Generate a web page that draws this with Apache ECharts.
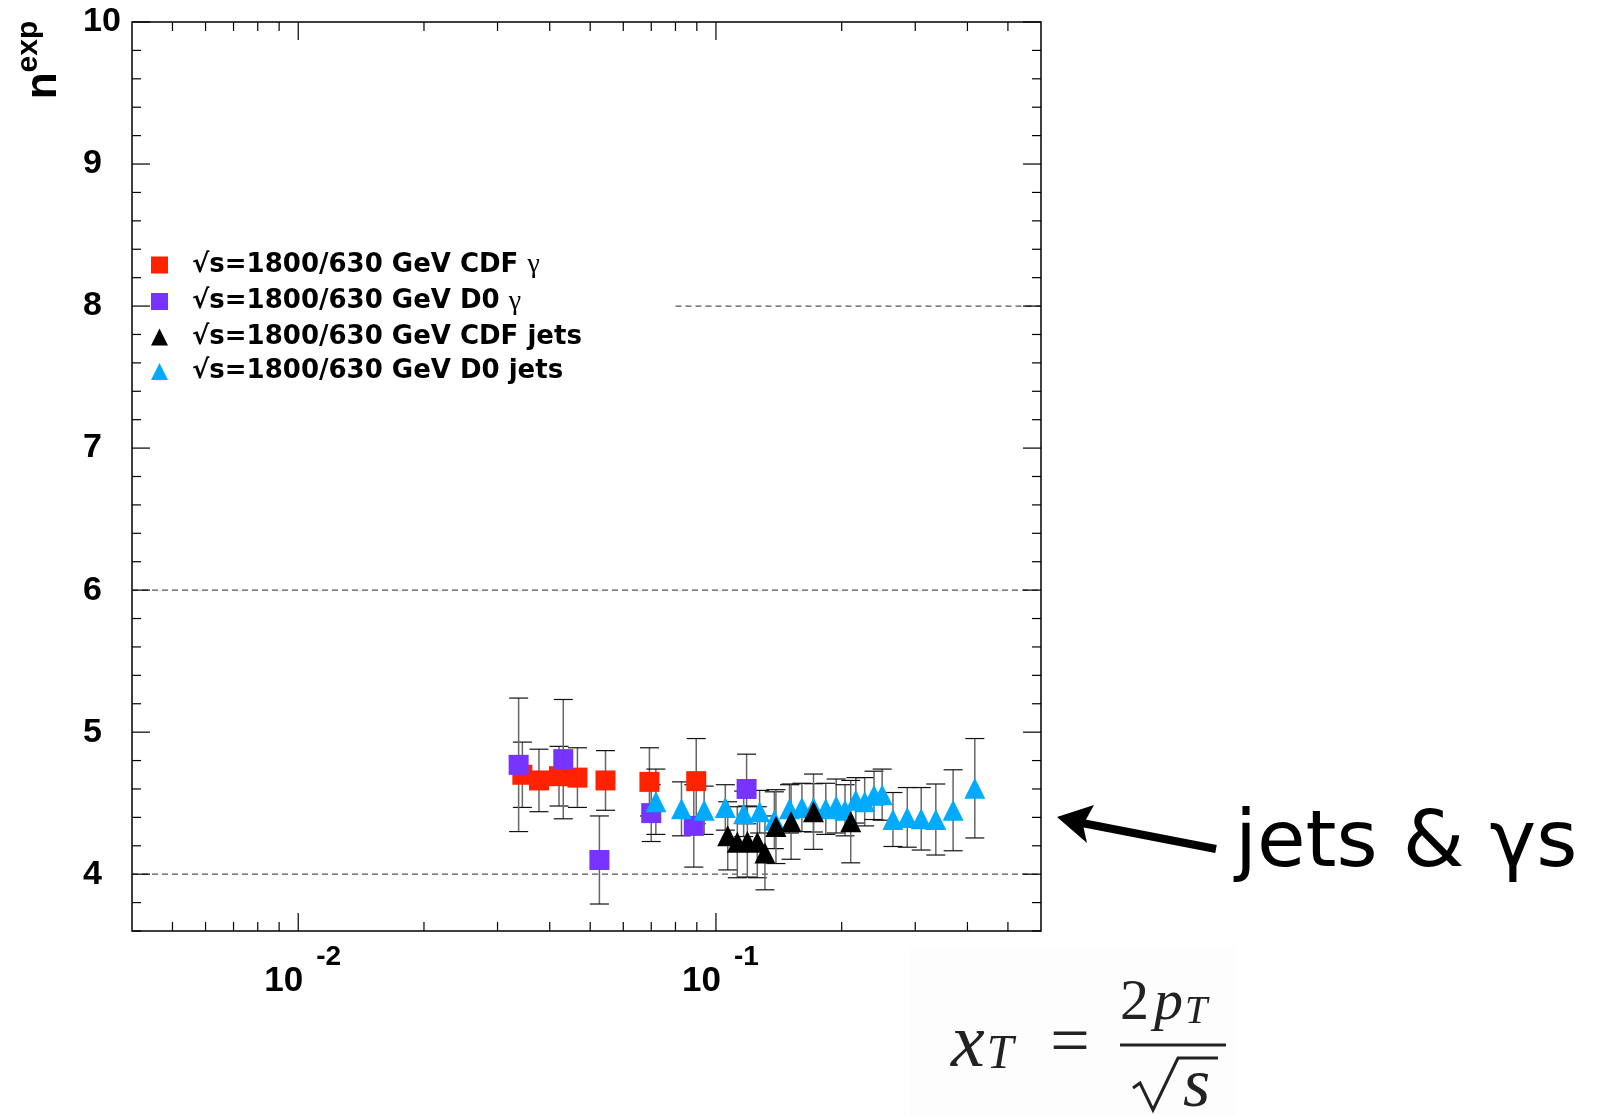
<!DOCTYPE html>
<html>
<head>
<meta charset="utf-8">
<script src="https://cdn.jsdelivr.net/npm/echarts@6/dist/echarts.min.js"></script>
<style>
  html, body { margin: 0; padding: 0; background: #fff; }
  #chart { width: 1597px; height: 1116px; }
</style>
</head>
<body>
<div id="chart"></div>
<script>
// values (x = x_T, y = n_exp, err = half-length of the error bar)
const cdfGammaX = [0.0344, 0.0377, 0.0421, 0.0466, 0.0544, 0.0693, 0.0897]
const cdfGammaY = [4.70, 4.66, 4.69, 4.68, 4.66, 4.65, 4.655]
const cdfGammaErr = [0.23, 0.22, 0.21, 0.21, 0.21, 0.24, 0.30]

const d0GammaX = [0.0337, 0.0431, 0.0526, 0.0700, 0.0885, 0.1184]
const d0GammaY = [4.77, 4.81, 4.10, 4.43, 4.34, 4.60]
const d0GammaErr = [0.47, 0.42, 0.31, 0.20, 0.29, 0.245]

const d0JetsX = [0.0718, 0.0827, 0.0937, 0.1053, 0.1165, 0.1272, 0.138, 0.150, 0.1606, 0.1712,
  0.1832, 0.194, 0.2037, 0.2162, 0.227, 0.239, 0.250, 0.2653, 0.2871, 0.310, 0.336, 0.3696, 0.4166]
const d0JetsY = [4.51, 4.46, 4.45, 4.47, 4.425, 4.44, 4.38, 4.46, 4.47, 4.467,
  4.46, 4.48, 4.45, 4.52, 4.51, 4.555, 4.56, 4.385, 4.40, 4.39, 4.385, 4.45, 4.605]
const d0JetsErr = [0.23, 0.19, 0.17, 0.16, 0.16, 0.15, 0.20, 0.17, 0.17, 0.17,
  0.18, 0.19, 0.18, 0.16, 0.17, 0.17, 0.18, 0.19, 0.21, 0.22, 0.25, 0.285, 0.35]

const cdfJetsX = [0.1067, 0.1125, 0.1189, 0.1256, 0.131, 0.1392, 0.1513, 0.1712, 0.2102]
const cdfJetsY = [4.27, 4.225, 4.23, 4.225, 4.15, 4.335, 4.37, 4.44, 4.37]
const cdfJetsErr = [0.24, 0.25, 0.25, 0.25, 0.26, 0.26, 0.265, 0.265, 0.29]

// dashed reference lines
const refLevels = [4, 6, 8]
const refFrom = [0.004, 0.004, 0.08]
const refTo = [0.6, 0.6, 0.6]

// frame ticks
const xMajorTicks = [0.01, 0.1]
const xMinorTicks = [0.005, 0.006, 0.007, 0.008, 0.009, 0.02, 0.03, 0.04, 0.05, 0.06, 0.07, 0.08, 0.09, 0.2, 0.3, 0.4, 0.5]
const yMajorTicks = [4, 5, 6, 7, 8, 9, 10]
const yMinorTicks = []
for (let k = 18; k <= 50; k++) {
  if (k % 5 !== 0) yMinorTicks.push(k / 5)
}

const names = [
  '√s=1800/630 GeV CDF γ',
  '√s=1800/630 GeV D0 γ',
  '√s=1800/630 GeV CDF jets',
  '√s=1800/630 GeV D0 jets'
]

const zip3 = (a, b, c) => a.map((v, i) => [v, b[i], c[i]])
const zip2 = (a, b) => a.map((v, i) => [v, b[i]])

function errorBarItem(params, api) {
  const x = api.value(0), y = api.value(1), e = api.value(2)
  const hi = api.coord([x, y + e])
  const lo = api.coord([x, y - e])
  const w = 9.5
  return {
    type: 'group',
    children: [
      { type: 'line', shape: { x1: hi[0], y1: hi[1], x2: lo[0], y2: lo[1] }, style: { stroke: '#666', lineWidth: 1.5 } },
      { type: 'line', shape: { x1: hi[0] - w, y1: hi[1], x2: hi[0] + w, y2: hi[1] }, style: { stroke: '#111', lineWidth: 1.2 } },
      { type: 'line', shape: { x1: lo[0] - w, y1: lo[1], x2: lo[0] + w, y2: lo[1] }, style: { stroke: '#111', lineWidth: 1.2 } }
    ]
  }
}

function errorSeries(x, y, err) {
  return {
    type: 'custom',
    renderItem: errorBarItem,
    data: zip3(x, y, err),
    encode: { x: 0, y: 1 },
    silent: true
  }
}

function markerSeries(name, x, y, symbol, color, size) {
  return {
    name: name,
    type: 'scatter',
    data: zip2(x, y),
    symbol: symbol,
    symbolSize: size,
    itemStyle: { color: color, opacity: 1 },
    silent: true
  }
}

// ticks on all four sides of the frame
const tickData = []
xMajorTicks.forEach(v => tickData.push([v, 5, 0, 1]))
xMinorTicks.forEach(v => tickData.push([v, 5, 0, 0]))
yMajorTicks.forEach(v => tickData.push([0.01, v, 1, 1]))
yMinorTicks.forEach(v => tickData.push([0.01, v, 1, 0]))

function tickItem(params, api) {
  const cs = params.coordSys
  const len = api.value(3) ? 18 : 9
  const st = { stroke: '#000', lineWidth: 1.2 }
  if (api.value(2) === 0) {
    const px = api.coord([api.value(0), api.value(1)])[0]
    return {
      type: 'group',
      children: [
        { type: 'line', shape: { x1: px, y1: cs.y + cs.height, x2: px, y2: cs.y + cs.height - len }, style: st },
        { type: 'line', shape: { x1: px, y1: cs.y, x2: px, y2: cs.y + len }, style: st }
      ]
    }
  }
  const py = api.coord([api.value(0), api.value(1)])[1]
  return {
    type: 'group',
    children: [
      { type: 'line', shape: { x1: cs.x, y1: py, x2: cs.x + len, y2: py }, style: st },
      { type: 'line', shape: { x1: cs.x + cs.width, y1: py, x2: cs.x + cs.width - len, y2: py }, style: st }
    ]
  }
}

function refLineItem(params, api) {
  const a = api.coord([api.value(1), api.value(0)])
  const b = api.coord([api.value(2), api.value(0)])
  return {
    type: 'line',
    shape: { x1: a[0], y1: a[1], x2: b[0], y2: b[1] },
    style: { stroke: '#555', lineWidth: 1.2, lineDash: [6, 4] }
  }
}

const chart = echarts.init(document.getElementById('chart'))

const option = {
  backgroundColor: '#fff',
  animation: false,
  grid: {
    left: 132, top: 22, width: 909, height: 909,
    show: true, borderColor: '#000', borderWidth: 1.5,
    backgroundColor: 'transparent',
    containLabel: false, outerBoundsMode: 'none'
  },
  xAxis: {
    type: 'log',
    logBase: 10,
    min: 0.004,
    max: 0.6,
    axisLine: { show: false },
    axisTick: { show: false },
    splitLine: { show: false },
    minorTick: { show: false },
    axisLabel: {
      margin: 12,
      formatter: function (v) {
        const e = Math.log10(v)
        if (Math.abs(e - Math.round(e)) > 1e-6) return ''
        return '{b|10}{s|' + Math.round(e) + '}'
      },
      rich: {
        b: { fontFamily: 'Liberation Sans', fontWeight: 'bold', fontSize: 35, lineHeight: 76, padding: [0, 0, 0, 9], color: '#000' },
        s: { fontFamily: 'Liberation Sans', fontWeight: 'bold', fontSize: 28, lineHeight: 12, verticalAlign: 'top', padding: [0, 0, 0, 13], color: '#000' }
      }
    }
  },
  yAxis: {
    type: 'value',
    min: 3.6,
    max: 10,
    interval: 0.2,
    axisLine: { show: false },
    axisTick: { show: false },
    splitLine: { show: false },
    axisLabel: {
      margin: 49,
      align: 'left',
      fontFamily: 'Liberation Sans',
      fontWeight: 'bold',
      fontSize: 34,
      color: '#000',
      formatter: function (v) {
        return Math.abs(v - Math.round(v)) < 1e-6 ? String(Math.round(v)) : ''
      }
    }
  },
  legend: {
    orient: 'vertical',
    left: 151,
    top: 251,
    padding: 0,
    itemWidth: 17,
    itemHeight: 17,
    itemGap: 8.5,
    selectedMode: false,
    data: [
      { name: names[0], icon: 'rect' },
      { name: names[1], icon: 'rect' },
      { name: names[2], icon: 'triangle' },
      { name: names[3], icon: 'triangle' }
    ],
    formatter: function (name) {
      return name.replace(' γ', ' {g|γ}')
    },
    textStyle: {
      fontFamily: 'DejaVu Sans',
      fontWeight: 'bold',
      fontSize: 26,
      lineHeight: 17,
      color: '#000',
      padding: [0, 0, 0, 19],
      rich: {
        g: { fontFamily: 'Liberation Serif', fontWeight: 'normal', fontSize: 28, lineHeight: 17, color: '#000' }
      }
    }
  },
  series: [
    {
      type: 'custom',
      renderItem: refLineItem,
      data: refLevels.map((v, i) => [v, refFrom[i], refTo[i]]),
      encode: { x: 1, y: 0 },
      silent: true
    },
    {
      type: 'custom',
      renderItem: tickItem,
      data: tickData,
      encode: { x: 0, y: 1 },
      silent: true
    },
    errorSeries(cdfGammaX, cdfGammaY, cdfGammaErr),
    markerSeries(names[0], cdfGammaX, cdfGammaY, 'rect', '#ff2200', 20),
    errorSeries(d0GammaX, d0GammaY, d0GammaErr),
    markerSeries(names[1], d0GammaX, d0GammaY, 'rect', '#7733ff', 20),
    errorSeries(d0JetsX, d0JetsY, d0JetsErr),
    markerSeries(names[3], d0JetsX, d0JetsY, 'triangle', '#00aaff', 21),
    errorSeries(cdfJetsX, cdfJetsY, cdfJetsErr),
    markerSeries(names[2], cdfJetsX, cdfJetsY, 'triangle', '#000000', 21)
  ],
  graphic: [
    // y-axis title n^exp
    {
      type: 'text',
      x: 44, y: 60,
      rotation: Math.PI / 2,
      style: {
        text: '{n|n}{e|exp}',
        align: 'center',
        verticalAlign: 'middle',
        rich: {
          n: { fontFamily: 'Liberation Sans', fontWeight: 'bold', fontSize: 44, lineHeight: 60, fill: '#000' },
          e: { fontFamily: 'Liberation Sans', fontWeight: 'bold', fontSize: 30, lineHeight: 22, verticalAlign: 'top', fill: '#000' }
        }
      }
    },
    // annotation arrow
    {
      type: 'polyline',
      shape: { points: [[1216, 849], [1082, 823]] },
      style: { stroke: '#000', lineWidth: 8 }
    },
    {
      type: 'polygon',
      shape: { points: [[1057, 817], [1094, 805], [1083, 825], [1087, 843]] },
      style: { fill: '#000' }
    },
    {
      type: 'text',
      x: 1235, y: 845,
      style: {
        text: 'jets & γs',
        fontFamily: 'DejaVu Sans',
        fontSize: 79,
        fill: '#000',
        align: 'left',
        verticalAlign: 'middle'
      }
    },
    // formula x_T = 2p_T / sqrt(s)
    {
      type: 'rect',
      shape: { x: 910, y: 946, width: 326, height: 170 },
      style: { fill: '#fdfdfd' },
      z: -1
    },
    {
      type: 'text',
      x: 951, y: 1046,
      style: {
        text: '{x|x}{t|T}',
        align: 'left',
        verticalAlign: 'middle',
        rich: {
          x: { fontFamily: 'Liberation Serif', fontStyle: 'italic', fontSize: 76, lineHeight: 66, fill: '#222' },
          t: { fontFamily: 'Liberation Serif', fontStyle: 'italic', fontSize: 48, lineHeight: 20, verticalAlign: 'bottom', padding: [0, 0, 0, 2], fill: '#222' }
        }
      }
    },
    {
      type: 'text',
      x: 1070, y: 1046,
      style: {
        text: '=',
        fontFamily: 'Liberation Serif',
        fontSize: 70,
        fill: '#222',
        align: 'center',
        verticalAlign: 'middle'
      }
    },
    {
      type: 'line',
      shape: { x1: 1120, y1: 1045, x2: 1226, y2: 1045 },
      style: { stroke: '#222', lineWidth: 3 }
    },
    {
      type: 'text',
      x: 1120, y: 1004,
      style: {
        text: '{n|2}{p|p}{t|T}',
        align: 'left',
        verticalAlign: 'middle',
        rich: {
          n: { fontFamily: 'Liberation Serif', fontSize: 58, lineHeight: 56, fill: '#222' },
          p: { fontFamily: 'Liberation Serif', fontStyle: 'italic', fontSize: 58, lineHeight: 56, padding: [0, 0, 0, 5], fill: '#222' },
          t: { fontFamily: 'Liberation Serif', fontStyle: 'italic', fontSize: 40, lineHeight: 16, verticalAlign: 'bottom', padding: [0, 0, 0, 2], fill: '#222' }
        }
      }
    },
    {
      type: 'polyline',
      shape: { points: [[1133, 1088], [1140, 1083], [1153, 1110], [1178, 1058], [1218, 1058]] },
      style: { stroke: '#222', lineWidth: 3, fill: null }
    },
    {
      type: 'text',
      x: 1183, y: 1088,
      style: {
        text: 's',
        fontFamily: 'Liberation Serif',
        fontStyle: 'italic',
        fontSize: 70,
        fill: '#222',
        align: 'left',
        verticalAlign: 'middle'
      }
    }
  ]
}

chart.setOption(option)
window.addEventListener('resize', () => chart.resize())
</script>
</body>
</html>
